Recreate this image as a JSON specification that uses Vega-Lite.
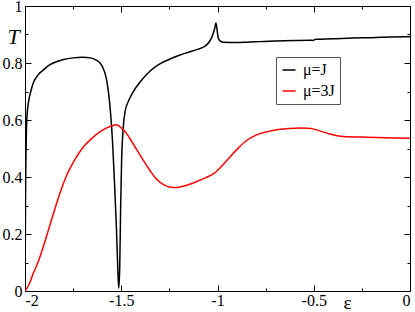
{
  "$schema": "https://vega.github.io/schema/vega-lite/v6.json",
  "width": 385,
  "height": 285,
  "autosize": "none",
  "padding": {"left": 25, "top": 6, "right": 5, "bottom": 21},
  "background": "white",
  "config": {
    "font": "Liberation Serif",
    "view": {"stroke": "black", "strokeWidth": 1},
    "axis": {
      "labelFont": "Liberation Serif",
      "titleFont": "Liberation Serif",
      "labelFontSize": 16,
      "labelColor": "black",
      "titleColor": "black",
      "tickColor": "black",
      "domain": false,
      "grid": false,
      "titleFontWeight": "normal"
    },
    "legend": {
      "labelFont": "Liberation Serif",
      "labelFontSize": 16,
      "labelColor": "black"
    }
  },
  "data": {
    "values": [
      {"series": "μ=J", "eps": -2.0, "T": 0.0},
      {"series": "μ=J", "eps": -1.997, "T": 0.35},
      {"series": "μ=J", "eps": -1.993, "T": 0.55},
      {"series": "μ=J", "eps": -1.99, "T": 0.61},
      {"series": "μ=J", "eps": -1.98, "T": 0.67},
      {"series": "μ=J", "eps": -1.97, "T": 0.70},
      {"series": "μ=J", "eps": -1.957, "T": 0.73},
      {"series": "μ=J", "eps": -1.93, "T": 0.76},
      {"series": "μ=J", "eps": -1.905, "T": 0.775},
      {"series": "μ=J", "eps": -1.88, "T": 0.79},
      {"series": "μ=J", "eps": -1.853, "T": 0.80},
      {"series": "μ=J", "eps": -1.80, "T": 0.812},
      {"series": "μ=J", "eps": -1.75, "T": 0.818},
      {"series": "μ=J", "eps": -1.70, "T": 0.82},
      {"series": "μ=J", "eps": -1.66, "T": 0.818},
      {"series": "μ=J", "eps": -1.63, "T": 0.81},
      {"series": "μ=J", "eps": -1.61, "T": 0.80},
      {"series": "μ=J", "eps": -1.59, "T": 0.775},
      {"series": "μ=J", "eps": -1.576, "T": 0.74},
      {"series": "μ=J", "eps": -1.565, "T": 0.69},
      {"series": "μ=J", "eps": -1.555, "T": 0.62},
      {"series": "μ=J", "eps": -1.545, "T": 0.52},
      {"series": "μ=J", "eps": -1.535, "T": 0.38},
      {"series": "μ=J", "eps": -1.525, "T": 0.22},
      {"series": "μ=J", "eps": -1.518, "T": 0.08},
      {"series": "μ=J", "eps": -1.513, "T": 0.01},
      {"series": "μ=J", "eps": -1.508, "T": 0.08},
      {"series": "μ=J", "eps": -1.503, "T": 0.30},
      {"series": "μ=J", "eps": -1.498, "T": 0.46},
      {"series": "μ=J", "eps": -1.49, "T": 0.57},
      {"series": "μ=J", "eps": -1.48, "T": 0.63},
      {"series": "μ=J", "eps": -1.46, "T": 0.67},
      {"series": "μ=J", "eps": -1.437, "T": 0.70},
      {"series": "μ=J", "eps": -1.40, "T": 0.735},
      {"series": "μ=J", "eps": -1.35, "T": 0.772},
      {"series": "μ=J", "eps": -1.30, "T": 0.797},
      {"series": "μ=J", "eps": -1.25, "T": 0.813},
      {"series": "μ=J", "eps": -1.195, "T": 0.828},
      {"series": "μ=J", "eps": -1.15, "T": 0.838},
      {"series": "μ=J", "eps": -1.108, "T": 0.847},
      {"series": "μ=J", "eps": -1.07, "T": 0.857},
      {"series": "μ=J", "eps": -1.045, "T": 0.872},
      {"series": "μ=J", "eps": -1.03, "T": 0.89},
      {"series": "μ=J", "eps": -1.015, "T": 0.92},
      {"series": "μ=J", "eps": -1.008, "T": 0.94},
      {"series": "μ=J", "eps": -1.002, "T": 0.915},
      {"series": "μ=J", "eps": -0.996, "T": 0.887},
      {"series": "μ=J", "eps": -0.985, "T": 0.877},
      {"series": "μ=J", "eps": -0.97, "T": 0.873},
      {"series": "μ=J", "eps": -0.90, "T": 0.872},
      {"series": "μ=J", "eps": -0.85, "T": 0.873},
      {"series": "μ=J", "eps": -0.78, "T": 0.875},
      {"series": "μ=J", "eps": -0.70, "T": 0.877},
      {"series": "μ=J", "eps": -0.60, "T": 0.879},
      {"series": "μ=J", "eps": -0.52, "T": 0.880},
      {"series": "μ=J", "eps": -0.505, "T": 0.879},
      {"series": "μ=J", "eps": -0.49, "T": 0.883},
      {"series": "μ=J", "eps": -0.40, "T": 0.885},
      {"series": "μ=J", "eps": -0.30, "T": 0.888},
      {"series": "μ=J", "eps": -0.20, "T": 0.889},
      {"series": "μ=J", "eps": -0.10, "T": 0.891},
      {"series": "μ=J", "eps": 0.0, "T": 0.892},
      {"series": "μ=3J", "eps": -2.0, "T": 0.0},
      {"series": "μ=3J", "eps": -1.98, "T": 0.022},
      {"series": "μ=3J", "eps": -1.957, "T": 0.062},
      {"series": "μ=3J", "eps": -1.93, "T": 0.105},
      {"series": "μ=3J", "eps": -1.905, "T": 0.155},
      {"series": "μ=3J", "eps": -1.88, "T": 0.21},
      {"series": "μ=3J", "eps": -1.853, "T": 0.27},
      {"series": "μ=3J", "eps": -1.82, "T": 0.34},
      {"series": "μ=3J", "eps": -1.784, "T": 0.405},
      {"series": "μ=3J", "eps": -1.74, "T": 0.462},
      {"series": "μ=3J", "eps": -1.697, "T": 0.505},
      {"series": "μ=3J", "eps": -1.65, "T": 0.537},
      {"series": "μ=3J", "eps": -1.61, "T": 0.559},
      {"series": "μ=3J", "eps": -1.57, "T": 0.574},
      {"series": "μ=3J", "eps": -1.541, "T": 0.581},
      {"series": "μ=3J", "eps": -1.525, "T": 0.583},
      {"series": "μ=3J", "eps": -1.51, "T": 0.578},
      {"series": "μ=3J", "eps": -1.49, "T": 0.567},
      {"series": "μ=3J", "eps": -1.472, "T": 0.552},
      {"series": "μ=3J", "eps": -1.455, "T": 0.535},
      {"series": "μ=3J", "eps": -1.43, "T": 0.507},
      {"series": "μ=3J", "eps": -1.403, "T": 0.478},
      {"series": "μ=3J", "eps": -1.385, "T": 0.458},
      {"series": "μ=3J", "eps": -1.35, "T": 0.422},
      {"series": "μ=3J", "eps": -1.316, "T": 0.392},
      {"series": "μ=3J", "eps": -1.28, "T": 0.373},
      {"series": "μ=3J", "eps": -1.25, "T": 0.365},
      {"series": "μ=3J", "eps": -1.212, "T": 0.363},
      {"series": "μ=3J", "eps": -1.17, "T": 0.369},
      {"series": "μ=3J", "eps": -1.108, "T": 0.384},
      {"series": "μ=3J", "eps": -1.06, "T": 0.398},
      {"series": "μ=3J", "eps": -1.013, "T": 0.415},
      {"series": "μ=3J", "eps": -0.98, "T": 0.437},
      {"series": "μ=3J", "eps": -0.935, "T": 0.47},
      {"series": "μ=3J", "eps": -0.89, "T": 0.503},
      {"series": "μ=3J", "eps": -0.849, "T": 0.528},
      {"series": "μ=3J", "eps": -0.80, "T": 0.547},
      {"series": "μ=3J", "eps": -0.727, "T": 0.561},
      {"series": "μ=3J", "eps": -0.693, "T": 0.566},
      {"series": "μ=3J", "eps": -0.63, "T": 0.57},
      {"series": "μ=3J", "eps": -0.571, "T": 0.572},
      {"series": "μ=3J", "eps": -0.53, "T": 0.571},
      {"series": "μ=3J", "eps": -0.50, "T": 0.568},
      {"series": "μ=3J", "eps": -0.46, "T": 0.56},
      {"series": "μ=3J", "eps": -0.416, "T": 0.551},
      {"series": "μ=3J", "eps": -0.37, "T": 0.544},
      {"series": "μ=3J", "eps": -0.329, "T": 0.541},
      {"series": "μ=3J", "eps": -0.25, "T": 0.54},
      {"series": "μ=3J", "eps": -0.173, "T": 0.539},
      {"series": "μ=3J", "eps": -0.08, "T": 0.537},
      {"series": "μ=3J", "eps": 0.0, "T": 0.536}
    ]
  },
  "layer": [
    {
      "mark": {"type": "line", "strokeWidth": 1.5, "clip": true, "interpolate": "monotone"},
      "encoding": {
        "x": {
          "field": "eps", "type": "quantitative",
          "scale": {"domain": [-2, 0], "nice": false, "zero": false},
          "axis": {
            "orient": "bottom",
            "values": [-2, -1.5, -1, -0.5, 0],
            "labelExpr": "'' + datum.value",
            "tickSize": -6,
            "labelPadding": 7,
            "title": "ε",
            "titleFontSize": 19,
            "titleAnchor": null,
            "titleX": 322,
            "titleY": 17,
            "titleAlign": "center",
            "titleBaseline": "alphabetic"
          }
        },
        "y": {
          "field": "T", "type": "quantitative",
          "scale": {"domain": [0, 1], "nice": false},
          "axis": {
            "orient": "left",
            "values": [0, 0.2, 0.4, 0.6, 0.8, 1],
            "labelExpr": "'' + datum.value",
            "tickSize": -6,
            "labelPadding": 9,
            "title": "T",
            "titleFontSize": 22,
            "titleFontStyle": "italic",
            "titleAngle": 0,
            "titleAnchor": null,
            "titleX": -12,
            "titleY": 30,
            "titleAlign": "center",
            "titleBaseline": "middle"
          }
        },
        "color": {
          "field": "series", "type": "nominal",
          "scale": {"domain": ["μ=J", "μ=3J"], "range": ["#000000", "#ff0000"]},
          "legend": {
            "title": null,
            "orient": "none",
            "legendX": 251,
            "legendY": 51,
            "padding": 5,
            "strokeColor": "#555555",
            "fillColor": "white",
            "symbolType": "stroke",
            "symbolSize": 169,
            "symbolStrokeWidth": 1.5,
            "rowPadding": 5,
            "labelOffset": 6,
            "labelFont": "Liberation Serif",
            "labelFontSize": 16,
            "labelColor": "black"
          }
        }
      }
    },
    {
      "mark": {"type": "line", "opacity": 0},
      "encoding": {
        "x": {"field": "eps", "type": "quantitative",
          "axis": {"orient": "bottom", "values": [-1.75, -1.25, -0.75, -0.25], "labels": false, "tickSize": -3, "title": null}},
        "y": {"field": "T", "type": "quantitative",
          "axis": {"orient": "left", "values": [0.1, 0.3, 0.5, 0.7, 0.9], "labels": false, "tickSize": -3, "title": null}},
        "detail": {"field": "series", "type": "nominal"}
      }
    },
    {
      "mark": {"type": "line", "opacity": 0},
      "encoding": {
        "x": {"field": "eps", "type": "quantitative",
          "axis": {"orient": "top", "values": [-2, -1.5, -1, -0.5, 0], "labels": false, "tickSize": -6, "title": null}},
        "y": {"field": "T", "type": "quantitative",
          "axis": {"orient": "right", "values": [0, 0.2, 0.4, 0.6, 0.8, 1], "labels": false, "tickSize": -6, "title": null}},
        "detail": {"field": "series", "type": "nominal"}
      }
    },
    {
      "mark": {"type": "line", "opacity": 0},
      "encoding": {
        "x": {"field": "eps", "type": "quantitative",
          "axis": {"orient": "top", "values": [-1.75, -1.25, -0.75, -0.25], "labels": false, "tickSize": -3, "title": null}},
        "y": {"field": "T", "type": "quantitative",
          "axis": {"orient": "right", "values": [0.1, 0.3, 0.5, 0.7, 0.9], "labels": false, "tickSize": -3, "title": null}},
        "detail": {"field": "series", "type": "nominal"}
      }
    }
  ],
  "resolve": {"axis": {"x": "independent", "y": "independent"}}
}
